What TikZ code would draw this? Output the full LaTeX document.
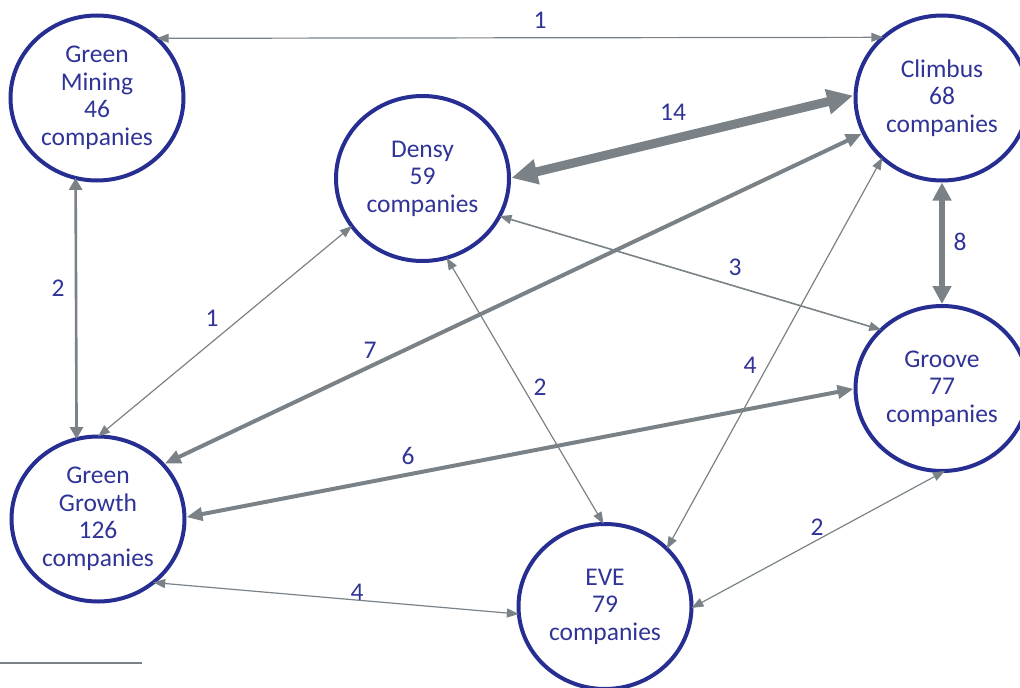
\documentclass[tikz,border=0pt]{standalone}
\usepackage{fontspec}
\setmainfont{Carlito}
\usetikzlibrary{arrows.meta,shapes.geometric}
\definecolor{ringblue}{RGB}{38,46,146}
\definecolor{textblue}{RGB}{48,52,150}
\definecolor{linkgray}{RGB}{122,130,135}
\begin{document}
\begin{tikzpicture}[x=1pt,y=-1pt,
  cluster/.style={ellipse,draw=ringblue,line width=4pt,minimum width=173pt,
    minimum height=165pt,inner sep=0pt,outer sep=0pt,text=textblue,align=center,
    font=\fontsize{25.5}{27.5}\selectfont},
  num/.style={text=textblue,font=\fontsize{25.5}{27.5}\selectfont,inner sep=0pt},
  thin link/.style={draw=linkgray,line width=1.2pt,
    {Triangle[length=12pt,width=9pt]}-{Triangle[length=12pt,width=9pt]}},
  mid link/.style={draw=linkgray,line width=2.6pt,
    {Triangle[length=12pt,width=13pt]}-{Triangle[length=12pt,width=13pt]}},
  thick link/.style={draw=linkgray,line width=4pt,
    {Triangle[length=16pt,width=13pt,sep=2pt]}-{Triangle[length=16pt,width=13pt,sep=2pt]}},
  heavy link/.style={draw=linkgray,line width=6pt,
    {Triangle[length=18pt,width=18pt,sep=2pt]}-{Triangle[length=18pt,width=18pt,sep=2pt]}},
  huge link/.style={draw=linkgray,line width=9pt,
    {Triangle[length=26pt,width=24pt,sep=2.5pt]}-{Triangle[length=26pt,width=24pt,sep=2.5pt]}},
]
\useasboundingbox (0,0) rectangle (1020,688);

% clusters
\node[cluster] (gm) at (97,98)     {Green\\Mining\\46\\companies};
\node[cluster] (de) at (422.5,178.5) {Densy\\59\\companies};
\node[cluster] (cl) at (942,98)    {Climbus\\68\\companies};
\node[cluster] (gr) at (942,388.5) {Groove\\77\\companies};
\node[cluster] (gg) at (98,519)    {Green\\Growth\\126\\companies};
\node[cluster] (ev) at (605,606.5) {EVE\\79\\companies};

% links between clusters
\draw[thin link]  (gm.45)   -- (cl.134);
\draw[mid link]   (gm.-105) -- (gg.105);
\draw[huge link]  (de.0)    -- (cl.178);
\draw[heavy link] (cl.-90)  -- (gr.90);
\draw[thin link, line width=1.6pt] (de.-26) -- (gr.136);
\draw[thin link]  (gg.90)   -- (de.-146);
\draw[thick link] (gg.40)   -- (cl.-156);
\draw[thin link]  (de.-73)  -- (ev.91);
\draw[thin link]  (ev.43)   -- (cl.-135);
\draw[thick link] (gg.1)    -- (gr.180);
\draw[thin link]  (gg.-49)  -- (ev.-175);
\draw[thin link]  (ev.-1)   -- (gr.-88);

% link counts
\node[num] (n1)  at (540,20)  {1};
\node[num] (n2)  at (58,288)  {2};
\node[num] (n3)  at (673,112) {14};
\node[num] (n4)  at (960,242) {8};
\node[num] (n5)  at (735,267) {3};
\node[num] (n6)  at (212,318) {1};
\node[num] (n7)  at (370,350) {7};
\node[num] (n8)  at (540,387) {2};
\node[num] (n9)  at (750,365) {4};
\node[num] (n10) at (408,456) {6};
\node[num] (n11) at (357,592) {4};
\node[num] (n12) at (817,527) {2};

% footnote rule
\coordinate (ruleL) at (0,663);
\coordinate (ruleR) at (142,663);
\draw[linkgray, line width=1.5pt] (ruleL) -- (ruleR);
\end{tikzpicture}
\end{document}
